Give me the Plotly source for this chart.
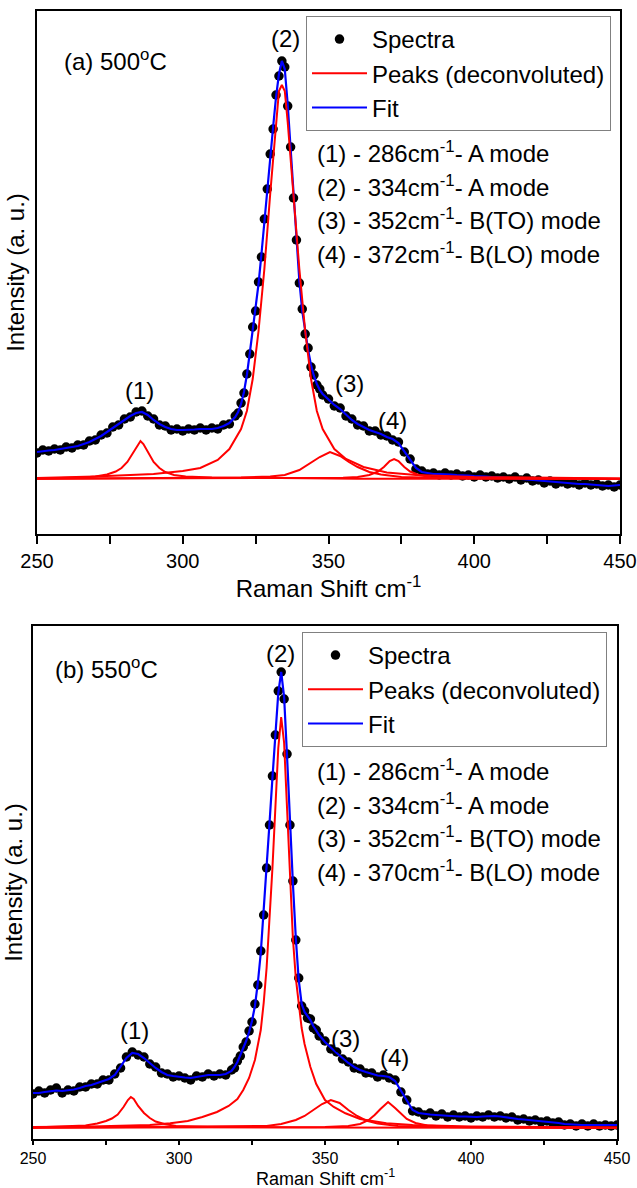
import plotly.graph_objects as go

# ---------------- data (arbitrary intensity units) ----------------
x_grid = [250, 252, 254, 256, 258, 260, 262, 264, 266, 268, 270, 272, 274, 276, 278, 280, 282, 284, 286, 288,
          290, 292, 294, 296, 298, 300, 302, 304, 306, 308, 310, 312, 314, 316,
          318, 319, 320, 321, 322, 323, 324, 325, 326, 327, 328, 329, 330, 331, 332, 333, 334, 335, 336, 337,
          338, 339, 340, 341, 342, 343, 344, 345, 346, 347,
          348, 350, 352, 354, 356, 358, 360, 362, 364, 366, 368, 370, 372, 374, 376, 378, 380, 382, 384, 386,
          388, 390, 392, 394, 396, 398, 400, 402, 404, 406, 408, 410, 412, 414, 416, 418, 420, 422, 424, 426,
          428, 430, 432, 434, 436, 438, 440, 442, 444, 446, 448, 450]

# ---- (a) 500 C ----
spectra_a = [26, 29, 28, 30, 29, 32, 31, 34, 34, 38, 39, 44, 46, 52, 54, 60, 62, 67, 68, 63,
             60, 54, 53, 49, 50, 48, 50, 49, 51, 49, 51, 50, 54, 55,
             63, 66, 76, 86, 105, 125, 152, 168, 197, 222, 260, 290, 325, 350, 384, 403, 418, 412, 373, 332,
             281, 239, 196, 170, 145, 131, 112, 104, 94, 90,
             84, 80, 73, 71, 63, 60, 54, 53, 48, 48, 44, 43, 39, 37, 27, 20, 10, 8, 5, 6,
             4, 6, 4, 5, 3, 4, 2, 4, 2, 3, 1, 2, 0, 2, -1, 1, -2, -1, -4, -2,
             -5, -3, -5, -4, -6, -4, -6, -5, -7, -6, -8, -6]
fit_a = [27, 28, 28.5, 29, 30, 31, 32, 33, 35, 37, 40, 43, 47, 51, 55, 59, 63, 66, 67, 64,
         59, 55, 52, 50, 49, 49, 49, 49.5, 50, 50, 50, 51, 53, 56,
         62, 67, 75, 87, 104, 126, 150, 170, 195, 225, 258, 292, 323, 352, 382, 405, 418, 410, 375, 330,
         283, 237, 198, 168, 147, 129, 114, 103, 95, 89,
         85, 79, 74, 70, 64, 59, 55, 52, 49, 47, 45, 42, 40, 36, 28, 19, 11, 7, 6, 5,
         5, 5, 4.5, 4, 4, 3.5, 3, 3, 2.5, 2, 2, 1.5, 1, 0.5, 0, -0.5, -1, -2, -2.5, -3,
         -3.5, -4, -4, -4.5, -5, -5, -5.5, -6, -6, -7, -6.5, -6]

peak1_a_x = [250, 260, 266, 270, 274, 277, 279, 281, 283, 284.5, 285.5, 286.5, 288, 290, 292, 294, 297, 301, 310, 330, 360, 450]
peak1_a_y = [0.5, 1, 1.5, 2.5, 4.5, 7.5, 11, 17, 26, 34, 38, 35, 27, 17, 11, 7, 4, 2.5, 1.5, 0.8, 0.3, 0]
peak2_a_x = [250, 270, 290, 300, 306, 312, 316, 320, 322, 324, 326, 328, 330, 332, 333, 334, 335, 336, 338, 340,
             342, 344, 346, 348, 352, 356, 362, 370, 380, 400, 450]
peak2_a_y = [1, 2.5, 5, 8, 11, 19, 30, 50, 68, 100, 148, 210, 285, 357, 388, 394, 388, 357, 285, 210,
             148, 100, 68, 50, 30, 20, 12, 6.5, 4, 2, 0.5]
peak3_a_x = [250, 300, 320, 330, 335, 340, 344, 347, 350.5, 354, 357, 360, 364, 368, 375, 390, 450]
peak3_a_y = [0.3, 1, 1.5, 2.5, 4, 9, 16, 22, 27, 23, 17, 12, 7, 4.5, 2, 1, 0.2]
peak4_a_x = [250, 320, 345, 355, 360, 364, 367, 369, 371, 372.5, 374, 376, 378, 381, 385, 395, 450]
peak4_a_y = [0.2, 0.5, 0.8, 1.2, 2, 4, 7.5, 12, 18, 20, 18, 12, 7.5, 4, 2, 1, 0.3]

# ---- (b) 550 C ----
spectra_b = [34, 37, 35, 38, 40, 35, 38, 37, 41, 41, 44, 44, 48, 48, 54, 60, 71, 76, 73, 71,
             64, 61, 55, 54, 51, 52, 50, 48, 52, 51, 54, 52, 54, 53,
             58, 60, 67, 72, 81, 86, 97, 106, 124, 143, 177, 213, 260, 303, 352, 393, 437, 456, 429, 374,
             303, 247, 188, 150, 122, 117, 110, 109, 100, 98,
             92, 87, 79, 76, 69, 66, 60, 59, 55, 55, 51, 53, 50, 48, 36, 28, 17, 16, 13, 15,
             12, 14, 11, 13, 11, 12, 10, 12, 11, 13, 11, 12, 10, 11, 8, 9, 7, 8, 6, 7,
             5, 6, 3, 4, 2, 4, 2, 4, 2, 3, 2, 3]
fit_b = [35, 35, 36, 37, 37.5, 37, 37.5, 38.5, 40, 42, 43, 45, 47, 49, 53, 61, 70, 75, 74, 70,
         65, 60, 56, 53, 52, 51, 50.5, 50, 51, 52, 53, 53, 53, 54,
         57, 61, 66, 73, 80, 87, 96, 107, 122, 145, 175, 215, 258, 305, 350, 395, 435, 456, 431, 372,
         305, 245, 190, 148, 124, 116, 112, 108, 102, 97,
         93, 86, 80, 75, 70, 65, 61, 58, 56, 54, 52.5, 52, 51, 47, 37, 27, 18, 15, 14, 13.5,
         13, 12.5, 12, 12, 11.5, 11.5, 11, 11, 11.5, 12, 12, 11.5, 10.5, 10, 9, 8.5, 8, 7.5, 7, 6.5,
         6, 5, 4, 3.5, 3, 3, 3, 3, 3, 3, 3, 3]

peak1_b_x = [250, 262, 268, 272, 275, 277, 279, 281, 282.5, 283.5, 284.5, 286, 288, 290, 292, 295, 299, 310, 340, 450]
peak1_b_y = [0.5, 1.5, 2.5, 4.5, 7, 9.5, 13.5, 21, 28, 31, 29, 22, 15, 10, 6.5, 4, 2, 1, 0.4, 0]
peak2_b_x = [250, 270, 290, 297, 303, 308, 313, 317, 320, 322, 324, 326, 328, 329, 330, 331, 332, 333, 334, 335,
             336, 337, 338, 339, 340, 341, 342, 343, 345, 347, 350, 353, 357, 362, 371, 380, 400, 450]
peak2_b_y = [1, 1.5, 3, 4.7, 7, 11, 16, 22, 29, 38, 50, 68, 98, 125, 160, 205, 260, 320, 380, 411,
             385, 320, 250, 190, 150, 125, 100, 84, 61, 44, 28, 21, 14.7, 9, 4.7, 3, 1.5, 0.5]
peak3_b_x = [250, 300, 320, 330, 335, 340, 343, 346, 349, 352, 355, 358, 361, 364, 368, 375, 390, 450]
peak3_b_y = [0.3, 1, 1.5, 2, 4, 8, 12, 18, 24, 28, 25, 18, 12, 7.5, 4.5, 2, 1, 0.3]
peak4_b_x = [250, 320, 350, 358, 362, 365, 367, 369, 371.6, 374, 376, 378, 381, 385, 395, 450]
peak4_b_y = [0.3, 0.5, 1, 2, 4, 8, 13, 19, 26, 20, 14, 9, 5, 2.5, 1, 0.3]

# peak labels (x position, intensity) and mode list
peak_labels = ["(1)", "(2)", "(3)", "(4)"]
label_pos_a = [(285.3, 89), (335.4, 441), (357.2, 96), (371.8, 59)]
label_pos_b = [(284.6, 98), (334.6, 475), (357.0, 90), (373.7, 71)]
modes_a = ["(1) - 286cm<sup>-1</sup>- A mode", "(2) - 334cm<sup>-1</sup>- A mode",
           "(3) - 352cm<sup>-1</sup>- B(TO) mode", "(4) - 372cm<sup>-1</sup>- B(LO) mode"]
modes_b = ["(1) - 286cm<sup>-1</sup>- A mode", "(2) - 334cm<sup>-1</sup>- A mode",
           "(3) - 352cm<sup>-1</sup>- B(TO) mode", "(4) - 370cm<sup>-1</sup>- B(LO) mode"]
panel_titles = ["(a) 500<sup>o</sup>C", "(b) 550<sup>o</sup>C"]
x_title = "Raman Shift cm<sup>-1</sup>"
y_title = "Intensity (a. u.)"
x_range = [250, 450]
x_ticks = [250, 300, 350, 400, 450]
x_tick_text = ["250", "300", "350", "400", "450"]

# ---------------- layout helpers ----------------
W, H = 637, 1188
ML, MR, MT, MB = 33, 17, 10, 49
PW, PH = W - ML - MR, H - MT - MB
FONT = "Liberation Sans, Arial, sans-serif"


def fx(xp):  # figure pixel -> paper x (unclamped)
    return (xp - ML) / PW


def fy(yp):  # figure pixel -> paper y (unclamped)
    return (H - MB - yp) / PH


def px(xp):
    return min(1.0, max(0.0, fx(xp)))


def py(yp):
    return min(1.0, max(0.0, fy(yp)))


fig = go.Figure()

panels = [
    dict(xa="x", ya="y", leg="legend", spec=spectra_a, fit=fit_a,
         peaks=[(peak1_a_x, peak1_a_y), (peak2_a_x, peak2_a_y), (peak3_a_x, peak3_a_y), (peak4_a_x, peak4_a_y)]),
    dict(xa="x2", ya="y2", leg="legend2", spec=spectra_b, fit=fit_b,
         peaks=[(peak1_b_x, peak1_b_y), (peak2_b_x, peak2_b_y), (peak3_b_x, peak3_b_y), (peak4_b_x, peak4_b_y)]),
]

for p in panels:
    fig.add_trace(go.Scatter(x=x_grid, y=p["spec"], mode="markers", name="Spectra",
                             marker=dict(color="black", size=9.5), xaxis=p["xa"], yaxis=p["ya"],
                             legend=p["leg"], legendrank=1))
    fig.add_trace(go.Scatter(x=x_grid, y=p["fit"], mode="lines", name="Fit",
                             line=dict(color="#0000ff", width=2.2), xaxis=p["xa"], yaxis=p["ya"],
                             legend=p["leg"], legendrank=3))
    for i, (xx, yy) in enumerate(p["peaks"]):
        fig.add_trace(go.Scatter(x=xx, y=yy, mode="lines", name="Peaks (deconvoluted)",
                                 line=dict(color="#ff0000", width=2), xaxis=p["xa"], yaxis=p["ya"],
                                 legend=p["leg"], legendrank=2, showlegend=(i == 0)))

axis_common = dict(showline=True, mirror=True, linecolor="black", linewidth=1.5,
                   showgrid=False, zeroline=False)

fig.update_layout(
    width=W, height=H, margin=dict(l=ML, r=MR, t=MT, b=MB),
    paper_bgcolor="white", plot_bgcolor="white",
    font=dict(family=FONT, color="black", size=24),
    xaxis=dict(domain=[px(37), px(620)], anchor="y", range=x_range, tickvals=x_ticks, ticktext=x_tick_text,
               ticks="outside", ticklen=8, tickwidth=1.5, tickcolor="black",
               minor=dict(dtick=25, ticks="outside", ticklen=8, tickwidth=1.5, tickcolor="black"),
               tickfont=dict(size=20), title=dict(text=x_title, font=dict(size=24), standoff=6),
               automargin=False, **axis_common),
    yaxis=dict(domain=[py(534.3), py(10.7)], anchor="x", range=[-55.3, 468.3], showticklabels=False, ticks="",
               title=dict(text=y_title, font=dict(size=24), standoff=4), automargin=False, **axis_common),
    xaxis2=dict(domain=[px(33), px(617)], anchor="y2", range=x_range, tickvals=x_ticks, ticktext=x_tick_text,
                ticks="outside", ticklen=4, tickwidth=1.5, tickcolor="black",
                minor=dict(dtick=25, ticks="outside", ticklen=4, tickwidth=1.5, tickcolor="black"),
                tickfont=dict(size=16), automargin=False, **axis_common),
    yaxis2=dict(domain=[py(1139), py(626)], anchor="x2", range=[-11, 502], showticklabels=False, ticks="",
                title=dict(text=y_title, font=dict(size=24), standoff=4), automargin=False, **axis_common),
    legend=dict(x=px(306), y=py(16), xanchor="left", yanchor="top", bgcolor="white",
                bordercolor="#808080", borderwidth=1, font=dict(size=24), itemwidth=55,
                traceorder="normal", tracegroupgap=0),
    legend2=dict(x=px(302), y=py(632), xanchor="left", yanchor="top", bgcolor="white",
                 bordercolor="#808080", borderwidth=1, font=dict(size=24), itemwidth=55,
                 traceorder="normal", tracegroupgap=0),
    showlegend=True,
)

ann = []
for lab, (lx, ly) in zip(peak_labels, label_pos_a):
    ann.append(dict(x=lx, y=ly, xref="x", yref="y", text=lab, showarrow=False, font=dict(size=24)))
for lab, (lx, ly) in zip(peak_labels, label_pos_b):
    ann.append(dict(x=lx, y=ly, xref="x2", yref="y2", text=lab, showarrow=False, font=dict(size=24)))
for i, t in enumerate(modes_a):
    ann.append(dict(x=px(315), y=py(152 + 33.7 * i), xref="paper", yref="paper", text=t, showarrow=False,
                    xanchor="left", yanchor="middle", font=dict(size=24)))
for i, t in enumerate(modes_b):
    ann.append(dict(x=px(315), y=py(770 + 33.7 * i), xref="paper", yref="paper", text=t, showarrow=False,
                    xanchor="left", yanchor="middle", font=dict(size=24)))
ann.append(dict(x=px(62), y=py(60), xref="paper", yref="paper", text=panel_titles[0], showarrow=False,
                xanchor="left", yanchor="middle", font=dict(size=24)))
ann.append(dict(x=px(53), y=py(668), xref="paper", yref="paper", text=panel_titles[1], showarrow=False,
                xanchor="left", yanchor="middle", font=dict(size=24)))
# x-axis title of panel (b), pinned to the bottom edge of the figure
ann.append(dict(x=fx(325), y=fy(1190), xref="paper", yref="paper", text=x_title, showarrow=False,
                xanchor="center", yanchor="bottom", borderpad=0, font=dict(size=18)))
fig.update_layout(annotations=ann)

fig.write_html("out.html", config={"displayModeBar": False},
               post_script="document.body.style.margin='0';document.body.style.overflow='hidden';")
